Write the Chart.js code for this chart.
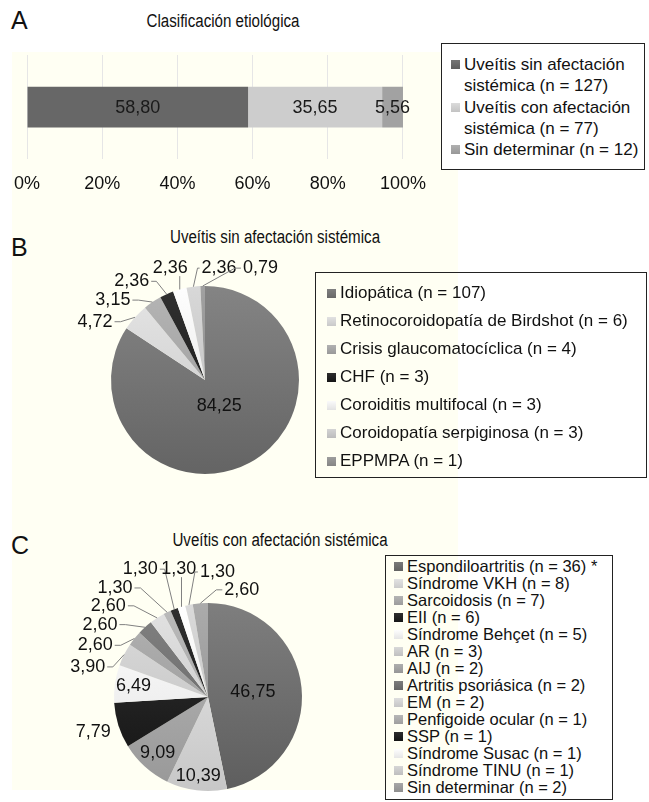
<!DOCTYPE html>
<html>
<head>
<meta charset="utf-8">
<script src="https://cdn.jsdelivr.net/npm/chart.js@4.4.1/dist/chart.umd.min.js"></script>
<style>
body{margin:0;width:649px;height:802px;position:relative;overflow:hidden;background:#fff;
font-family:"Liberation Sans",Arial,Helvetica,sans-serif;color:#111}
.cream{position:absolute;left:12px;top:52px;width:446px;height:738px;background:#fffff3}
.letter{position:absolute;font-size:25px;line-height:1}
.title{position:absolute;font-size:18px;line-height:1;transform:translateX(-50%) scaleX(.84);white-space:nowrap}
canvas{position:absolute}
.legend{position:absolute;border:1px solid #222;box-sizing:border-box}
.legend .row{position:relative;white-space:normal}
.legend .sw{position:absolute;width:9px;height:9px}
</style>
</head>
<body>
<div class="cream"></div>

<div class="letter" style="left:11px;top:8px">A</div>
<div class="title" style="left:223px;top:12px">Clasificación etiológica</div>
<canvas id="chartA" width="440" height="178" style="left:0;top:40px"></canvas>
<div class="legend" id="legA" style="left:441px;top:43px;width:204px;height:127px;background:#fff;padding:10px 3px 0 22px;font-size:17px;line-height:21.3px"></div>

<div class="letter" style="left:11px;top:235px">B</div>
<div class="title" style="left:275px;top:228px">Uveítis sin afectación sistémica</div>
<canvas id="chartB" width="300" height="300" style="left:55px;top:230px"></canvas>
<div class="legend" id="legB" style="left:315px;top:272px;width:332px;height:206px;padding:6px 4px 0 24px;font-size:17px;line-height:28px"></div>

<div class="letter" style="left:11px;top:533px">C</div>
<div class="title" style="left:280px;top:531px">Uveítis con afectación sistémica</div>
<canvas id="chartC" width="300" height="290" style="left:58px;top:547px"></canvas>
<div class="legend" id="legC" style="left:385px;top:555px;width:228px;height:245px;padding:2px 3px 0 21px;font-size:16.5px;line-height:17px"></div>

<script>
/* =========================
   DATA
========================= */

const etioNames = ["Uveítis sin afectación sistémica (n = 127)","Uveítis con afectación sistémica (n = 77)","Sin determinar (n = 12)"]
const etioPct = [58.80,35.65,5.56]
const etioColors = ["#676767","#cdcdcd","#a2a2a2"]
const axisTicks = [0,20,40,60,80,100]

const sinNames = ["Idiopática (n = 107)","Retinocoroidopatía de Birdshot (n = 6)","Crisis glaucomatocíclica (n = 4)","CHF (n = 3)","Coroiditis multifocal (n = 3)","Coroidopatía serpiginosa (n = 3)","EPPMPA (n = 1)"]
const sinPct = [84.25,4.72,3.15,2.36,2.36,2.36,0.79]
const sinColors = ["#727272","#d3d3d3","#a3a3a3","#1f1f1f","#ececec","#c6c6c6","#8f8f8f"]

const conNames = ["Espondiloartritis (n = 36) *","Síndrome VKH (n = 8)","Sarcoidosis (n = 7)","EII (n = 6)","Síndrome Behçet (n = 5)","AR (n = 3)","AIJ (n = 2)","Artritis psoriásica (n = 2)","EM (n = 2)","Penfigoide ocular (n = 1)","SSP (n = 1)","Síndrome Susac (n = 1)","Síndrome TINU (n = 1)","Sin determinar (n = 2)"]
const conPct = [46.75,10.39,9.09,7.79,6.49,3.90,2.60,2.60,2.60,1.30,1.30,1.30,1.30,2.60]
const conColors = ["#6c6c6c","#d5d5d5","#a6a6a6","#202020","#efefef","#cacaca","#a0a0a0","#6f6f6f","#d0d0d0","#a9a9a9","#1e1e1e","#f0f0f0","#c8c8c8","#999999"]

/* label placement (layout only): r = inside at fraction of radius,
   dx/dy = outside, offset from centre in radii */
const sinSpots = [{r:.32},{dx:-1.17,dy:-.62},{dx:-.98,dy:-.85},{dx:-.78,dy:-1.05},{dx:-.37,dy:-1.19},{dx:.15,dy:-1.19},{dx:.59,dy:-1.19}]
const conSpots = [{r:.48},{r:.85},{r:.8},{dx:-1.22,dy:.37,line:false},{r:.8},{dx:-1.28,dy:-.32},{dx:-1.2,dy:-.55},{dx:-1.15,dy:-.77},{dx:-1.06,dy:-.97},{dx:-.99,dy:-1.16},{dx:-.72,dy:-1.36},{dx:-.31,dy:-1.36},{dx:.1,dy:-1.33},{dx:.36,dy:-1.14}]

/* =========================
   HELPERS
========================= */

const fmt = v => v.toFixed(2).replace(".",",")
const FONT = "'Liberation Sans', Arial, sans-serif"

function shift(hex,amt){
let n = parseInt(hex.slice(1),16)
let r = Math.min(255,Math.max(0,(n>>16)+amt))
let g = Math.min(255,Math.max(0,((n>>8)&255)+amt))
let b = Math.min(255,Math.max(0,(n&255)+amt))
return "rgb("+r+","+g+","+b+")"
}

function shade(chart,hex){
const a = chart.chartArea
if(!a) return hex
const g = chart.ctx.createLinearGradient(0,a.top,0,a.bottom)
g.addColorStop(0,shift(hex,18))
g.addColorStop(1,shift(hex,-14))
return g
}

function buildLegend(id,names,colors,swTop){
const box = document.getElementById(id)
names.forEach((n,i)=>{
const row = document.createElement("div")
row.className = "row"
const sw = document.createElement("span")
sw.className = "sw"
sw.style.left = "-13px"
sw.style.top = swTop+"px"
sw.style.background = "linear-gradient("+shift(colors[i],14)+","+shift(colors[i],-10)+")"
row.appendChild(sw)
row.appendChild(document.createTextNode(n))
box.appendChild(row)
})
}

/* bar value labels */
const barLabels = {
id:"barLabels",
afterDatasetsDraw(chart){
const ctx = chart.ctx
ctx.save()
ctx.font = "18px "+FONT
ctx.fillStyle = "#1a1a1a"
ctx.textAlign = "center"
ctx.textBaseline = "middle"
chart.data.datasets.forEach((ds,i)=>{
const bar = chart.getDatasetMeta(i).data[0]
ctx.fillText(fmt(ds.data[0]),(bar.x+bar.base)/2,bar.y+1)
})
ctx.restore()
}
}

/* pie value labels with leader lines */
const pieLabels = {
id:"pieLabels",
afterDatasetsDraw(chart,args,opts){
const ctx = chart.ctx
const meta = chart.getDatasetMeta(0)
const vals = chart.data.datasets[0].data
ctx.save()
ctx.font = "18px "+FONT
ctx.fillStyle = "#111"
ctx.textAlign = "center"
ctx.textBaseline = "middle"
ctx.strokeStyle = "#808080"
ctx.lineWidth = 1
meta.data.forEach((arc,i)=>{
const s = opts.spots[i]
const R = arc.outerRadius
const mid = (arc.startAngle+arc.endAngle)/2
const txt = fmt(vals[i])
let x,y
if(s.r!==undefined){
x = arc.x+Math.cos(mid)*R*s.r
y = arc.y+Math.sin(mid)*R*s.r
}else{
x = arc.x+s.dx*R
y = arc.y+s.dy*R
if(s.line!==false){
const w = ctx.measureText(txt).width/2
const ax = arc.x+Math.cos(mid)*R
const ay = arc.y+Math.sin(mid)*R
ctx.beginPath()
if(Math.abs(ay-y) > 1.5*Math.abs(ax-x)){
const sx = Math.min(Math.max(ax,x-w),x+w)
ctx.moveTo(sx,y+8)
}else{
const dir = ax>x ? 1 : -1
const sx = x+dir*(w+2)
ctx.moveTo(sx,y)
ctx.lineTo(sx+dir*Math.min(6,Math.abs(ax-sx)/3),y)
}
ctx.lineTo(ax,ay)
ctx.stroke()
}
}
ctx.fillText(txt,x,y)
})
ctx.restore()
}
}

/* =========================
   CHART A - STACKED BAR
========================= */

new Chart(document.getElementById("chartA"),{
type:"bar",
data:{
labels:[""],
datasets:etioNames.map((n,i)=>({
label:n,
data:[etioPct[i]],
backgroundColor:etioColors[i],
barPercentage:.39,
categoryPercentage:1
}))
},
options:{
indexAxis:"y",
responsive:false,
animation:false,
layout:{padding:{left:18,right:24,top:15,bottom:9}},
plugins:{legend:{display:false},tooltip:{enabled:false}},
scales:{
x:{
stacked:true,
min:0,
max:100,
afterBuildTicks:axis=>{axis.ticks = axisTicks.map(v=>({value:v}))},
ticks:{callback:v=>v+"%",color:"#111",padding:14,font:{size:18,family:FONT}},
grid:{color:"#e6e6e6",drawTicks:false},
border:{display:false}
},
y:{stacked:true,display:false}
}
},
plugins:[barLabels]
})

/* =========================
   CHARTS B / C - PIES
========================= */

function makePie(id,names,vals,colors,spots,pad){
new Chart(document.getElementById(id),{
type:"pie",
data:{
labels:names,
datasets:[{
data:vals,
backgroundColor:c=>shade(c.chart,colors[c.dataIndex]),
borderWidth:0
}]
},
options:{
responsive:false,
animation:false,
layout:{padding:pad},
plugins:{legend:{display:false},tooltip:{enabled:false},pieLabels:{spots:spots}}
},
plugins:[pieLabels]
})
}

makePie("chartB",sinNames,sinPct,sinColors,sinSpots,56)
makePie("chartC",conNames,conPct,conColors,conSpots,{left:56,right:56,top:56,bottom:46})

buildLegend("legA",etioNames,etioColors,6)
buildLegend("legB",sinNames,sinColors,10)
buildLegend("legC",conNames,conColors,4)
</script>
</body>
</html>
